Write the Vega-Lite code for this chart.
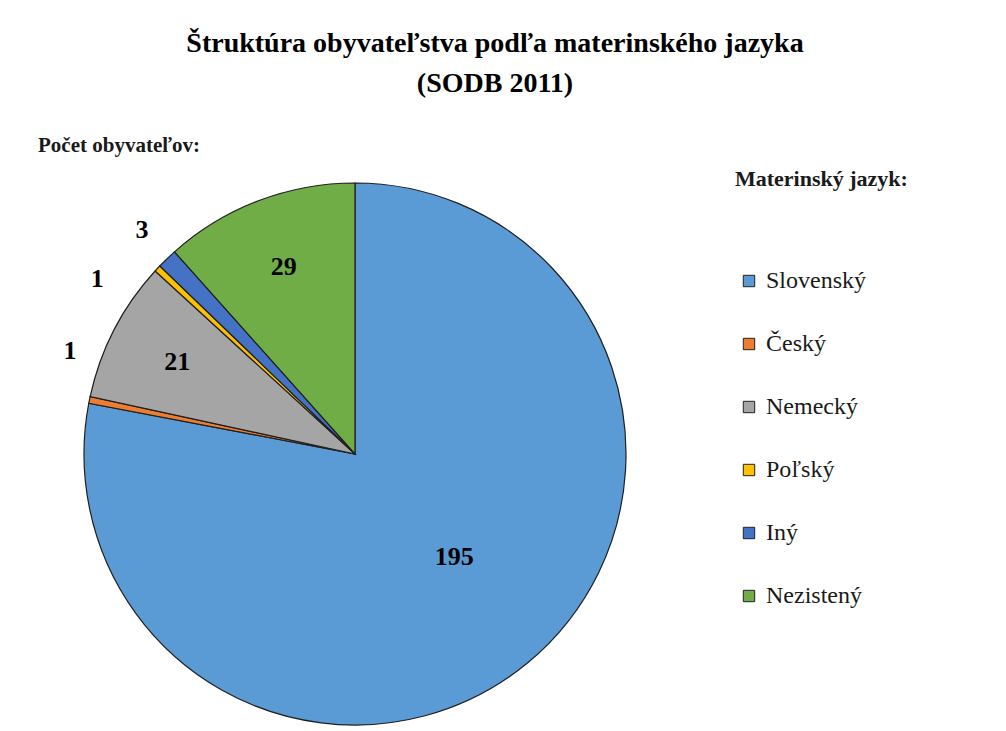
{
  "$schema": "https://vega.github.io/schema/vega-lite/v6.json",
  "autosize": "none",
  "width": 710,
  "height": 554,
  "padding": {"left": 0, "top": 177, "right": 296, "bottom": 0},
  "background": "white",
  "config": {"view": {"stroke": null}, "font": "Liberation Serif", "legend": {"labelFont": "Liberation Serif", "titleFont": "Liberation Serif"}},
  "title": {
    "text": ["Štruktúra obyvateľstva podľa materinského jazyka", "(SODB 2011)"],
    "anchor": "middle",
    "frame": "group",
    "dx": 140,
    "offset": 20,
    "font": "Liberation Serif",
    "fontSize": 28,
    "fontWeight": "bold",
    "color": "#000000",
    "lineHeight": 40
  },
  "data": {
    "values": [
      {"jazyk": "Slovenský", "pocet": 195, "poradie": 1},
      {"jazyk": "Český", "pocet": 1, "poradie": 2},
      {"jazyk": "Nemecký", "pocet": 21, "poradie": 3},
      {"jazyk": "Poľský", "pocet": 1, "poradie": 4},
      {"jazyk": "Iný", "pocet": 3, "poradie": 5},
      {"jazyk": "Nezistený", "pocet": 29, "poradie": 6}
    ]
  },
  "layer": [
    {
      "mark": {"type": "arc", "radius": 271, "stroke": "#1f1f1f", "strokeWidth": 1.2},
      "encoding": {
        "theta": {"field": "pocet", "type": "quantitative", "stack": true},
        "order": {"field": "poradie", "type": "quantitative"},
        "color": {
          "field": "jazyk",
          "type": "nominal",
          "sort": ["Slovenský", "Český", "Nemecký", "Poľský", "Iný", "Nezistený"],
          "scale": {
            "domain": ["Slovenský", "Český", "Nemecký", "Poľský", "Iný", "Nezistený"],
            "range": ["#5B9BD5", "#ED7D31", "#A5A5A5", "#FFC000", "#4472C4", "#70AD47"]
          },
          "legend": {
            "orient": "none",
            "legendX": 735,
            "legendY": -8,
            "padding": 0,
            "title": "Materinský jazyk:",
            "titleFont": "Liberation Serif",
            "titleFontSize": 22,
            "titleFontWeight": "bold",
            "titleColor": "#1a1a1a",
            "titlePadding": 78,
            "labelFont": "Liberation Serif",
            "labelFontSize": 24,
            "labelColor": "#1a1a1a",
            "labelOffset": 5,
            "symbolType": "square",
            "symbolSize": 130,
            "symbolStrokeColor": "#222222",
            "symbolStrokeWidth": 1,
            "symbolOffset": 2,
            "rowPadding": 39
          }
        }
      }
    },
    {
      "mark": {"type": "text", "radius": 140, "dx": 10, "dy": -5, "font": "Liberation Serif", "fontSize": 26, "fontWeight": "bold", "color": "#000000"},
      "encoding": {
        "theta": {"field": "pocet", "type": "quantitative", "stack": true},
        "order": {"field": "poradie", "type": "quantitative"},
        "text": {"condition": {"test": "datum.jazyk === 'Slovenský'", "field": "pocet", "type": "quantitative"}, "value": ""}
      }
    },
    {
      "mark": {"type": "text", "radius": 200, "font": "Liberation Serif", "fontSize": 26, "fontWeight": "bold", "color": "#000000"},
      "encoding": {
        "theta": {"field": "pocet", "type": "quantitative", "stack": true},
        "order": {"field": "poradie", "type": "quantitative"},
        "text": {"condition": {"test": "datum.jazyk === 'Nemecký' || datum.jazyk === 'Nezistený'", "field": "pocet", "type": "quantitative"}, "value": ""}
      }
    },
    {
      "mark": {"type": "text", "radius": 300, "dx": 9, "dy": -43, "font": "Liberation Serif", "fontSize": 26, "fontWeight": "bold", "color": "#000000"},
      "encoding": {
        "theta": {"field": "pocet", "type": "quantitative", "stack": true},
        "order": {"field": "poradie", "type": "quantitative"},
        "text": {"condition": {"test": "datum.jazyk === 'Český'", "field": "pocet", "type": "quantitative"}, "value": ""}
      }
    },
    {
      "mark": {"type": "text", "radius": 300, "dx": -39, "dy": 30, "font": "Liberation Serif", "fontSize": 26, "fontWeight": "bold", "color": "#000000"},
      "encoding": {
        "theta": {"field": "pocet", "type": "quantitative", "stack": true},
        "order": {"field": "poradie", "type": "quantitative"},
        "text": {"condition": {"test": "datum.jazyk === 'Poľský'", "field": "pocet", "type": "quantitative"}, "value": ""}
      }
    },
    {
      "mark": {"type": "text", "radius": 300, "dx": -5, "dy": -8, "font": "Liberation Serif", "fontSize": 26, "fontWeight": "bold", "color": "#000000"},
      "encoding": {
        "theta": {"field": "pocet", "type": "quantitative", "stack": true},
        "order": {"field": "poradie", "type": "quantitative"},
        "text": {"condition": {"test": "datum.jazyk === 'Iný'", "field": "pocet", "type": "quantitative"}, "value": ""}
      }
    },
    {
      "data": {"values": [{"popis": "Počet obyvateľov:"}]},
      "mark": {"type": "text", "align": "left", "baseline": "middle", "font": "Liberation Serif", "fontSize": 21, "fontWeight": "bold", "color": "#1a1a1a"},
      "encoding": {
        "x": {"value": 38},
        "y": {"value": -31},
        "text": {"field": "popis", "type": "nominal"}
      }
    }
  ]
}
